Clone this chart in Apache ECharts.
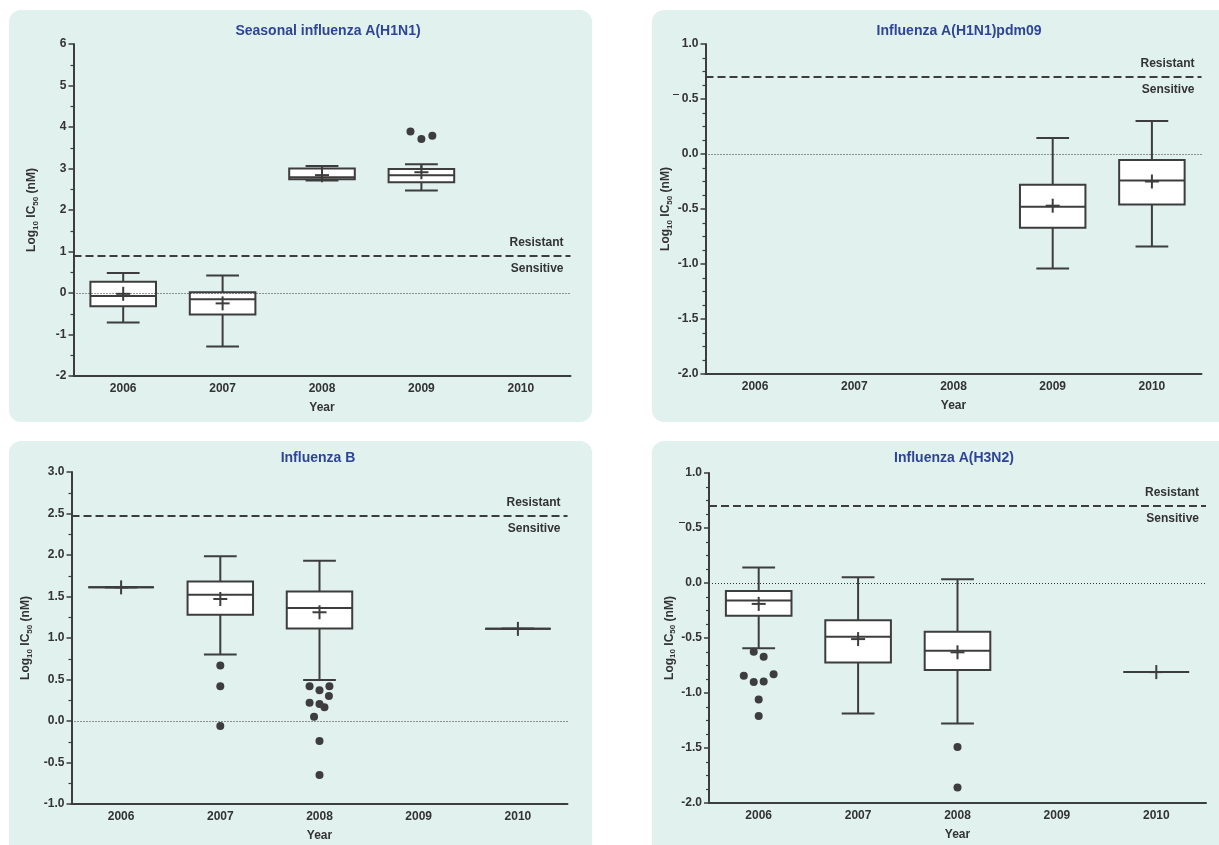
<!DOCTYPE html>
<html>
<head>
<meta charset="utf-8">
<script src="https://cdn.jsdelivr.net/npm/echarts@6/dist/echarts.min.js"></script>
<style>
  html, body { margin: 0; padding: 0; background: #ffffff; }
  #chart { width: 1219px; height: 845px; }
</style>
</head>
<body>
<div id="chart"></div>
<script>
const years = ["2006", "2007", "2008", "2009", "2010"];

// box values per year: [min, q1, median, q3, max], null = no isolates
const h1n1Box = [
  [-0.71, -0.32, -0.07, 0.27, 0.48],
  [-1.29, -0.52, -0.15, 0.02, 0.42],
  [2.71, 2.74, 2.79, 3.0, 3.06],
  [2.47, 2.67, 2.84, 2.99, 3.1],
  null,
];
const h1n1Mean = [-0.02, -0.25, 2.84, 2.91, null];
// outliers: [year index, value, jitter (fraction of category)]
const h1n1Out = [[3, 3.89, -0.11], [3, 3.71, 0], [3, 3.79, 0.11]];

const pdmBox = [
  null,
  null,
  null,
  [-1.04, -0.67, -0.48, -0.28, 0.145],
  [-0.84, -0.46, -0.24, -0.055, 0.3],
];
const pdmMean = [null, null, null, -0.47, -0.25];
const pdmOut = [];

const bBox = [
  [1.61, 1.61, 1.61, 1.61, 1.61],
  [0.8, 1.28, 1.52, 1.68, 1.985],
  [0.495, 1.115, 1.36, 1.56, 1.93],
  null,
  [1.11, 1.11, 1.11, 1.11, 1.11],
];
const bMean = [1.61, 1.47, 1.31, null, 1.11];
const bOut = [
  [1, 0.67, 0], [1, 0.42, 0], [1, -0.06, 0],
  [2, 0.42, -0.1], [2, 0.37, 0], [2, 0.42, 0.1], [2, 0.3, 0.095],
  [2, 0.22, -0.1], [2, 0.205, 0], [2, 0.165, 0.05], [2, 0.05, -0.055],
  [2, -0.24, 0], [2, -0.65, 0],
];

const h3Box = [
  [-0.594, -0.297, -0.16, -0.072, 0.14],
  [-1.186, -0.722, -0.488, -0.339, 0.053],
  [-1.277, -0.79, -0.617, -0.443, 0.035],
  null,
  [-0.81, -0.81, -0.81, -0.81, -0.81],
];
const h3Mean = [-0.19, -0.51, -0.63, null, -0.81];
const h3Out = [
  [0, -0.625, -0.05], [0, -0.67, 0.05], [0, -0.843, -0.15], [0, -0.83, 0.15],
  [0, -0.9, -0.05], [0, -0.895, 0.05], [0, -1.058, 0], [0, -1.21, 0],
  [2, -1.49, 0], [2, -1.86, 0],
];

const thresholds = [0.9, 0.7, 2.47, 0.7];
const titles = [
  "Seasonal influenza A(H1N1)",
  "Influenza A(H1N1)pdm09",
  "Influenza B",
  "Influenza A(H3N2)",
];

const LINE = "#3d3d3d";
const TEXT = "#333333";
const BG = "#e1f1ee";
const FONT = "Liberation Sans, Arial, sans-serif";

const panels = [
  { box: h1n1Box, mean: h1n1Mean, out: h1n1Out, min: -2, max: 6, interval: 1, minor: 2, dec: 0,
    grid: { left: 73.5, top: 44, width: 497, height: 332 }, nameGap: 34, bg: [9, 10, 583, 412], title: [328, 31] },
  { box: pdmBox, mean: pdmMean, out: pdmOut, min: -2, max: 1, interval: 0.5, minor: 4, dec: 1,
    grid: { left: 705.5, top: 44, width: 496, height: 330 }, nameGap: 32, bg: [652, 10, 600, 412], title: [959, 31] },
  { box: bBox, mean: bMean, out: bOut, min: -1, max: 3, interval: 0.5, minor: 2, dec: 1,
    grid: { left: 71.5, top: 472, width: 496, height: 332 }, nameGap: 38, bg: [9, 441, 583, 430], title: [318, 458] },
  { box: h3Box, mean: h3Mean, out: h3Out, min: -2, max: 1, interval: 0.5, minor: 4, dec: 1,
    grid: { left: 709, top: 473, width: 497, height: 330 }, nameGap: 32, bg: [652, 441, 600, 430], title: [954, 458] },
];

const renderBox = (params, api) => {
  const i = api.value(0);
  const lo = api.coord([i, api.value(1)]);
  const q1 = api.coord([i, api.value(2)]);
  const md = api.coord([i, api.value(3)]);
  const q3 = api.coord([i, api.value(4)]);
  const hi = api.coord([i, api.value(5)]);
  const band = api.size([1, 0])[0];
  const w = band * 0.66;
  const cw = w / 2;
  const x = lo[0];
  const st = { stroke: LINE, lineWidth: 2, fill: null };
  const ln = (x1, y1, x2, y2) => ({ type: "line", shape: { x1, y1, x2, y2 }, style: st });
  return {
    type: "group",
    children: [
      ln(x, lo[1], x, q1[1]),
      ln(x, q3[1], x, hi[1]),
      ln(x - cw / 2, lo[1], x + cw / 2, lo[1]),
      ln(x - cw / 2, hi[1], x + cw / 2, hi[1]),
      { type: "rect", shape: { x: x - w / 2, y: q3[1], width: w, height: q1[1] - q3[1] },
        style: { fill: "#ffffff", stroke: LINE, lineWidth: 2 } },
      ln(x - w / 2, md[1], x + w / 2, md[1]),
    ],
  };
};

const renderMean = (params, api) => {
  const p = api.coord([api.value(0), api.value(1)]);
  const h = 7;
  const st = { stroke: LINE, lineWidth: 2 };
  return {
    type: "group",
    children: [
      { type: "line", shape: { x1: p[0] - h, y1: p[1], x2: p[0] + h, y2: p[1] }, style: st },
      { type: "line", shape: { x1: p[0], y1: p[1] - h, x2: p[0], y2: p[1] + h }, style: st },
    ],
  };
};

const renderOut = (params, api) => {
  const p = api.coord([api.value(0), api.value(1)]);
  const band = api.size([1, 0])[0];
  return {
    type: "circle",
    shape: { cx: p[0] + api.value(2) * band, cy: p[1], r: 4 },
    style: { fill: LINE },
  };
};

const chart = echarts.init(document.getElementById("chart"));

const grid = [];
const xAxis = [];
const yAxis = [];
const series = [];
const graphic = [];

panels.forEach((p, k) => {
  grid.push(p.grid);
  xAxis.push({
    type: "category",
    gridIndex: k,
    data: years,
    boundaryGap: true,
    name: "Year",
    nameLocation: "middle",
    nameGap: 26,
    nameTextStyle: { fontFamily: FONT, fontSize: 12, fontWeight: "bold", color: TEXT },
    axisLine: { onZero: false, lineStyle: { color: LINE, width: 2 } },
    axisTick: { alignWithLabel: true, length: 5, lineStyle: { color: LINE, width: 1.5 } },
    axisLabel: { fontFamily: FONT, fontSize: 12, fontWeight: "bold", color: TEXT, margin: 7 },
    splitLine: { show: false },
  });
  yAxis.push({
    type: "value",
    gridIndex: k,
    min: p.min,
    max: p.max,
    interval: p.interval,
    name: "{a|Log}{s|10}{a| IC}{s|50}{a| (nM)}",
    nameLocation: "middle",
    nameGap: p.nameGap,
    nameTextStyle: {
      color: TEXT,
      rich: {
        a: { fontFamily: FONT, fontSize: 12, fontWeight: "bold", color: TEXT },
        s: { fontFamily: FONT, fontSize: 8, fontWeight: "bold", color: TEXT, padding: [7, 0, 0, 0] },
      },
    },
    axisLine: { show: true, onZero: false, lineStyle: { color: LINE, width: 2 } },
    axisTick: { show: true, length: 5, lineStyle: { color: LINE, width: 1.5 } },
    minorTick: { show: true, splitNumber: p.minor, length: 3, lineStyle: { color: LINE, width: 1.2 } },
    axisLabel: {
      fontFamily: FONT, fontSize: 12, fontWeight: "bold", color: TEXT, margin: 7,
      formatter: (v) => v.toFixed(p.dec),
    },
    splitLine: { show: false },
  });

  const labelBase = { fontFamily: FONT, fontSize: 12, fontWeight: "bold", color: TEXT, distance: 7 };
  // reference lines sit behind the boxes
  series.push({
    type: "custom",
    xAxisIndex: k,
    yAxisIndex: k,
    renderItem: () => ({ type: "group", children: [] }),
    data: [],
    z: 1,
    markLine: {
      silent: true,
      symbol: "none",
      animation: false,
      data: [
        { yAxis: 0, lineStyle: { type: [1, 2], width: 1, color: "#333333" }, label: { show: false } },
        { yAxis: thresholds[k], lineStyle: { type: [8, 4], width: 2, color: LINE },
          label: { ...labelBase, formatter: "Resistant", position: "insideEndTop" } },
        { yAxis: thresholds[k], lineStyle: { type: "solid", width: 0, color: "transparent" },
          label: { ...labelBase, formatter: "Sensitive", position: "insideEndBottom" } },
      ],
    },
  });
  series.push({
    type: "custom",
    xAxisIndex: k,
    yAxisIndex: k,
    renderItem: renderBox,
    encode: { x: 0, y: [1, 2, 3, 4, 5] },
    data: p.box.map((b, i) => (b ? [i, ...b] : null)).filter(Boolean),
    z: 3,
  });
  series.push({
    type: "custom",
    xAxisIndex: k,
    yAxisIndex: k,
    renderItem: renderMean,
    encode: { x: 0, y: 1 },
    data: p.mean.map((m, i) => (m === null ? null : [i, m])).filter(Boolean),
    z: 4,
  });
  series.push({
    type: "custom",
    xAxisIndex: k,
    yAxisIndex: k,
    renderItem: renderOut,
    encode: { x: 0, y: 1 },
    data: p.out,
    z: 4,
  });

  graphic.push({
    type: "rect",
    z: -100,
    shape: { x: p.bg[0], y: p.bg[1], width: p.bg[2], height: p.bg[3], r: 12 },
    style: { fill: BG },
  });
  graphic.push({
    type: "text",
    z: 10,
    style: {
      text: titles[k], x: p.title[0], y: p.title[1],
      textAlign: "center", textVerticalAlign: "middle",
      font: "bold 14px " + FONT, fill: "#2e4597",
    },
  });
});

// stray dashes next to the 0.5 labels in the original figure
graphic.push({ type: "line", z: 10, shape: { x1: 673, y1: 94.5, x2: 679, y2: 94.5 }, style: { stroke: TEXT, lineWidth: 1 } });
graphic.push({ type: "line", z: 10, shape: { x1: 679, y1: 522.5, x2: 685, y2: 522.5 }, style: { stroke: TEXT, lineWidth: 1 } });

chart.setOption({
  animation: false,
  backgroundColor: "#ffffff",
  grid,
  xAxis,
  yAxis,
  series,
  graphic,
});
</script>
</body>
</html>
